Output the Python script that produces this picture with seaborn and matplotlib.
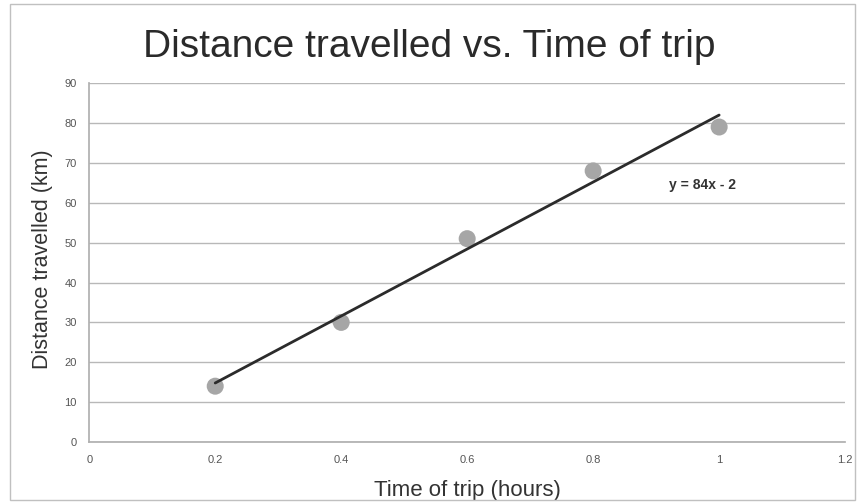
import numpy as np
import pandas as pd
import seaborn as sns
import matplotlib.pyplot as plt
from matplotlib.patches import Rectangle
from matplotlib.ticker import FuncFormatter

# Values
time_hours = [0.2, 0.4, 0.6, 0.8, 1.0]
distance_km = [14, 30, 51, 68, 79]
x_ticks = [0, 0.2, 0.4, 0.6, 0.8, 1.0, 1.2]
y_ticks = [0, 10, 20, 30, 40, 50, 60, 70, 80, 90]

df = pd.DataFrame({'time': time_hours, 'distance': distance_km})

sns.set_theme(style='white')
plt.rcParams['font.family'] = ['Liberation Sans', 'DejaVu Sans']

fig = plt.figure(figsize=(8.58, 5.04), dpi=100)
ax = fig.add_axes([0.104, 0.123, 0.881, 0.712])

# horizontal gridlines only, like the spreadsheet chart
ax.set_axisbelow(True)
ax.yaxis.grid(True, color='#b8b8b8', linewidth=1)
ax.xaxis.grid(False)

sns.scatterplot(data=df, x='time', y='distance', ax=ax, s=150,
                color='#a6a6a6', edgecolor='none', zorder=2)
sns.regplot(data=df, x='time', y='distance', ax=ax, ci=None, truncate=True,
            scatter=False, line_kws={'color': '#2b2b2b', 'linewidth': 2, 'zorder': 3})

# linear fit for the label text
slope, intercept = np.polyfit(time_hours, distance_km, 1)
sign = '-' if intercept < 0 else '+'
ax.text(0.92, 64.5, f'y = {slope:.0f}x {sign} {abs(intercept):.0f}',
        fontsize=10, fontweight='bold', color='#333333', va='center')

ax.set_xlim(0, 1.2)
ax.set_ylim(0, 90)
ax.set_xticks(x_ticks)
ax.set_yticks(y_ticks)
ax.xaxis.set_major_formatter(FuncFormatter(lambda v, p: f'{v:g}'))
ax.tick_params(axis='both', labelsize=8, labelcolor='#555555', length=0, pad=9)

for side in ['top', 'right']:
    ax.spines[side].set_visible(False)
ax.spines['left'].set_color('#b0b0b0')
ax.spines['bottom'].set_color('#b0b0b0')

ax.set_xlabel('Time of trip (hours)', fontsize=16, color='#333333')
ax.set_ylabel('Distance travelled (km)', fontsize=15.5, color='#333333')
ax.xaxis.set_label_coords(0.5, -0.134)
ax.yaxis.set_label_coords(-0.062, 0.51)
ax.xaxis.label.set_va('center')
ax.yaxis.label.set_va('center')
fig.text(0.5, 0.907, 'Distance travelled vs. Time of trip', fontsize=28,
         color='#2a2a2a', ha='center', va='center')

# outer chart border
fig.patches.append(Rectangle((0.012, 0.008), 0.985, 0.984, transform=fig.transFigure,
                             fill=False, edgecolor='#c0c0c0', linewidth=1))

fig.savefig('out.png', dpi=100)
